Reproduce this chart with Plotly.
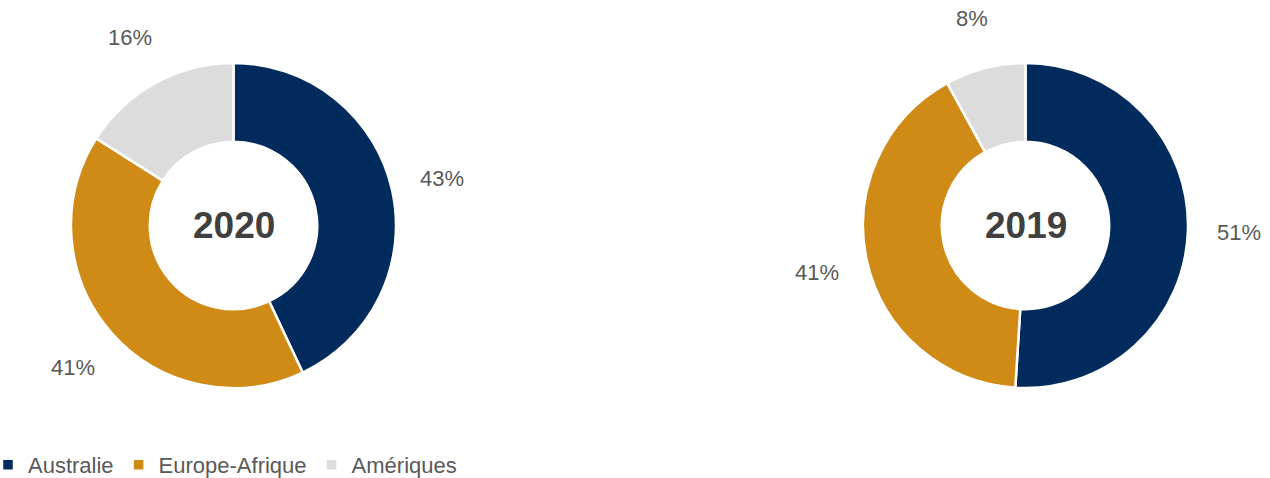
import math
import plotly.graph_objects as go

regions = ["Australie", "Europe-Afrique", "Amériques"]
values_2020 = [43, 41, 16]
values_2019 = [51, 41, 8]
years = ["2020", "2019"]
colors = ["#002B5C", "#D08A16", "#DCDCDC"]

W, H = 1270, 478
R_PX = 162.5
centers_px = [(233.5, 225.5), (1025.5, 225.5)]
FONT = "Liberation Sans, Arial"

fig = go.Figure()
for i, (vals, yr) in enumerate(zip([values_2020, values_2019], years)):
    cx, cy = centers_px[i]
    dom_x = [(cx - R_PX) / W, (cx + R_PX) / W]
    dom_y = [1 - (cy + R_PX) / H, 1 - (cy - R_PX) / H]
    fig.add_trace(go.Pie(
        labels=regions, values=vals, sort=False, direction="clockwise", rotation=0,
        hole=0.515, textinfo="none", hoverinfo="label+percent",
        marker=dict(colors=colors, line=dict(color="white", width=2.5)),
        domain=dict(x=dom_x, y=dom_y),
        legend="legend" if i == 0 else "legend2",
        showlegend=True,
    ))
    # centre label
    fig.add_annotation(x=cx / W, y=1 - cy / H, xref="paper", yref="paper",
                       xanchor="center", yanchor="middle",
                       text=f"<b>{yr}</b>", showarrow=False,
                       font=dict(family=FONT, size=37, color="#404040"))
    # percentage labels placed along slice mid-angle
    total = sum(vals)
    cum = 0
    for v in vals:
        mid = (cum + v / 2) / total * 2 * math.pi
        cum += v
        d = 214
        lx = cx + d * math.sin(mid)
        ly = cy - d * math.cos(mid)
        fig.add_annotation(x=lx / W, y=1 - ly / H, xref="paper", yref="paper",
                           xanchor="center", yanchor="middle",
                           text=f"{round(v / total * 100)}%", showarrow=False,
                           font=dict(family=FONT, size=22, color="#595959"))

leg_common = dict(orientation="h", yanchor="bottom", y=-8 / H, xanchor="left",
                  font=dict(family=FONT, size=22, color="#595959"),
                  borderwidth=0, bgcolor="rgba(0,0,0,0)",
                  itemclick=False, itemdoubleclick=False)
fig.update_layout(
    width=W, height=H, margin=dict(l=0, r=0, t=0, b=0, autoexpand=False),
    paper_bgcolor="white", plot_bgcolor="white",
    legend=dict(x=-12 / W, **leg_common),
    legend2=dict(x=780 / W, **leg_common),
)
fig.write_html("out.html", config={"displayModeBar": False},
               post_script="document.body.style.margin='0';document.body.style.padding='0';document.body.style.overflow='hidden';")
